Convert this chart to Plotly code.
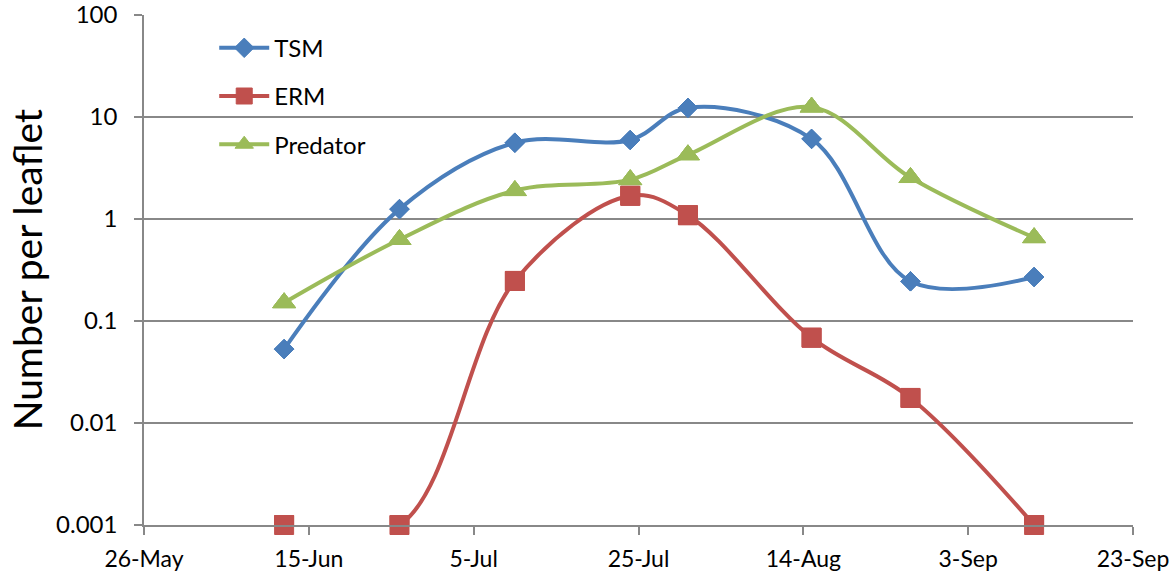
import plotly.graph_objects as go

# ---- data ----
dates = ["2013-06-12", "2013-06-26", "2013-07-10", "2013-07-24",
         "2013-07-31", "2013-08-15", "2013-08-27", "2013-09-11"]
tsm = [0.053, 1.25, 5.6, 5.95, 12.3, 6.1, 0.245, 0.27]
erm = [0.001, 0.001, 0.247, 1.69, 1.09, 0.0686, 0.0176, 0.001]
predator = [0.151, 0.63, 1.9, 2.43, 4.26, 12.5, 2.55, 0.656]

x_tick_vals = ["2013-05-26", "2013-06-15", "2013-07-05", "2013-07-25",
               "2013-08-14", "2013-09-03", "2013-09-23"]
x_tick_text = ["26-May", "15-Jun", "5-Jul", "25-Jul", "14-Aug", "3-Sep", "23-Sep"]
y_tick_vals = [0.001, 0.01, 0.1, 1, 10, 100]
y_tick_text = ["0.001", "0.01", "0.1", "1", "10", "100"]
y_title = "Number per leaflet"

series = [
    ("TSM", tsm, "#4A7EBB", "diamond", 15),
    ("ERM", erm, "#C0504D", "square", 19),
    ("Predator", predator, "#9BBB59", "triangle-up", 20),
]

FONT = "Lato, 'Open Sans', sans-serif"
GRID = "#888888"

fig = go.Figure()
for i, (name, vals, color, sym, size) in enumerate(series):
    fig.add_trace(go.Scatter(
        x=dates, y=vals, name=name, legendgroup=name,
        mode="lines+markers",
        line=dict(color=color, width=4, shape="spline", smoothing=1),
        marker=dict(symbol=sym, size=size, color=color,
                    line=dict(color=color, width=1)),
        cliponaxis=True,
    ))
    fig.add_trace(go.Scatter(
        x=dates, y=vals, name=name, legendgroup=name, showlegend=False,
        mode="markers",
        marker=dict(symbol=sym, size=size, color=color,
                    line=dict(color=color, width=1)),
        cliponaxis=False, hoverinfo="skip",
    ))

fig.update_layout(
    width=1173, height=577,
    margin=dict(l=144, r=40, t=15, b=52, autoexpand=False),
    paper_bgcolor="white", plot_bgcolor="white",
    font=dict(family=FONT, size=24, color="black"),
    showlegend=True,
    legend=dict(
        x=0.071, y=0.979, xanchor="left", yanchor="top",
        bgcolor="rgba(0,0,0,0)", font=dict(size=24, family=FONT),
        tracegroupgap=14, itemwidth=50,
    ),
    xaxis=dict(
        type="date", automargin=False,
        range=["2013-05-26", "2013-09-23"],
        tickmode="array", tickvals=x_tick_vals, ticktext=x_tick_text,
        showgrid=False, showline=True, linecolor=GRID, linewidth=1.5,
        ticks="outside", ticklen=8, tickwidth=1.5, tickcolor=GRID,
        tickfont=dict(size=23, family=FONT),
        ticklabelstandoff=5, ticklabeloverflow="allow",
        zeroline=False,
    ),
    yaxis=dict(
        type="log", range=[-3, 2], automargin=False,
        tickmode="array", tickvals=y_tick_vals, ticktext=y_tick_text,
        showgrid=True, gridcolor=GRID, gridwidth=1.5,
        showline=True, linecolor=GRID, linewidth=1.5,
        ticks="outside", ticklen=8, tickwidth=1.5, tickcolor=GRID,
        tickfont=dict(size=24, family=FONT),
        ticklabelstandoff=12, ticklabeloverflow="allow",
        zeroline=False,
    ),
    annotations=[dict(
        text=y_title, xref="paper", yref="paper",
        x=-0.118, y=0.5, xanchor="center", yanchor="middle",
        textangle=-90, showarrow=False,
        font=dict(size=39, family=FONT, color="black"),
    )],
)

fig.write_html(
    "out.html",
    config={"displayModeBar": False},
    post_script="document.body.style.margin='0';document.body.style.overflow='hidden';",
)
